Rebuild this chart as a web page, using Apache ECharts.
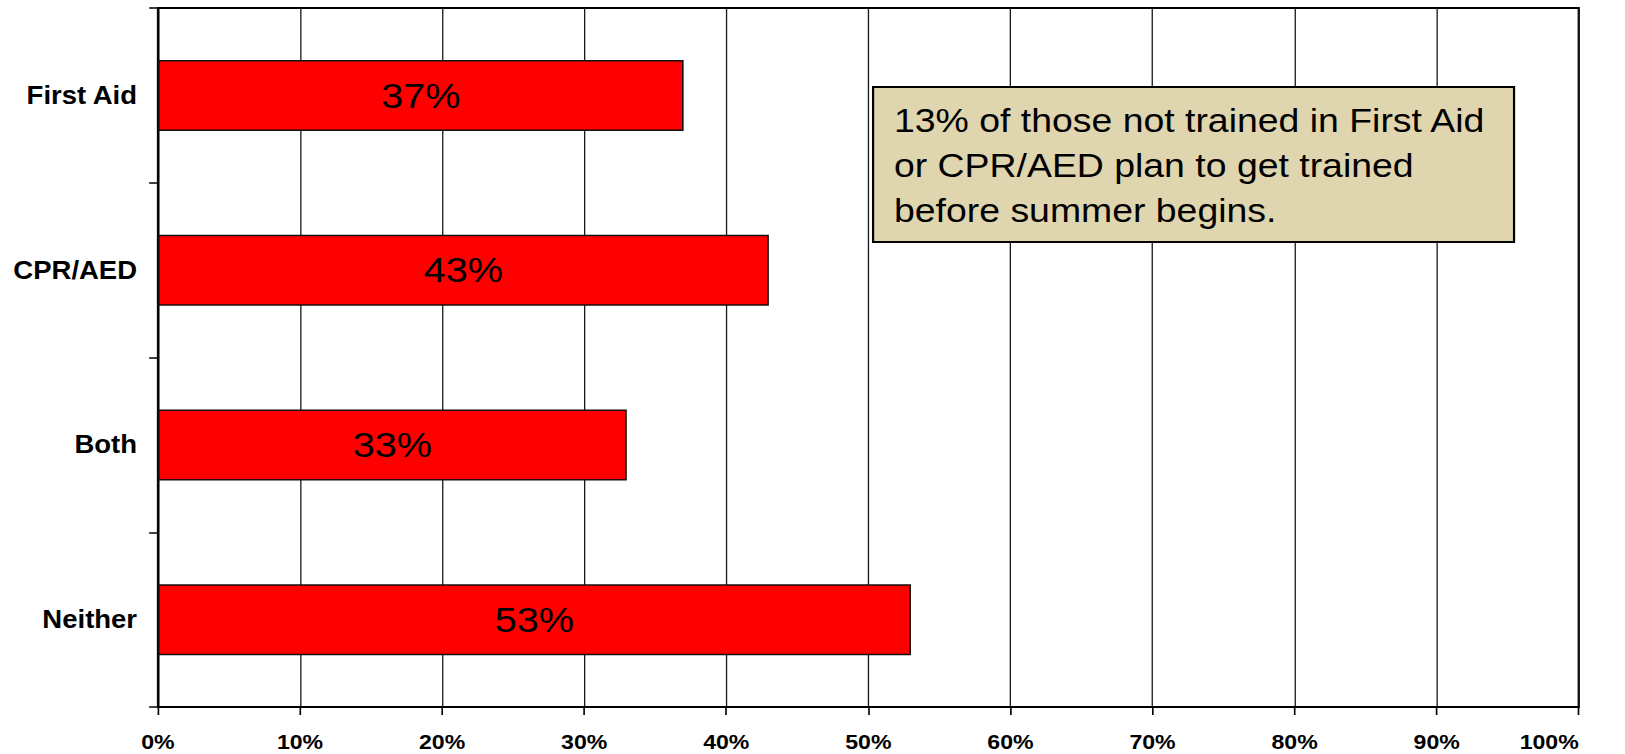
<!DOCTYPE html>
<html>
<head>
<meta charset="utf-8">
<script src="https://cdn.jsdelivr.net/npm/echarts@6/dist/echarts.min.js"></script>
<style>
  html, body { margin: 0; padding: 0; background: #fff; overflow: hidden; }
  #wrap { width: 1625px; height: 754px; overflow: hidden; }
  #chart { width: 1477px; height: 754px; transform: scaleX(1.1); transform-origin: 0 0; }
</style>
</head>
<body>
<div id="wrap"><div id="chart"></div></div>
<script>
// ---- data ----
const categories = ['First Aid', 'CPR/AED', 'Both', 'Neither'];
const values = [37, 43, 33, 53];
const xTicks = { min: 0, max: 100, interval: 10 };
const noteLines = [
  '13% of those not trained in First Aid',
  'or CPR/AED plan to get trained',
  'before summer begins.'
];

const FONT = '"Liberation Sans", Arial, Helvetica, sans-serif';
const chart = echarts.init(document.getElementById('chart'), null, { renderer: 'svg' });

chart.setOption({
  animation: false,
  backgroundColor: '#ffffff',
  grid: {
    left: 143.6, right: 41.8, top: 8, bottom: 47,
    show: true, borderColor: '#000', borderWidth: 2, backgroundColor: 'transparent'
  },
  xAxis: {
    type: 'value',
    min: xTicks.min, max: xTicks.max, interval: xTicks.interval,
    axisLine: { show: true, lineStyle: { color: '#000', width: 2 } },
    axisTick: { show: true, length: 8, lineStyle: { color: '#000', width: 1.5 } },
    axisLabel: {
      formatter: '{value}%', color: '#000', fontFamily: FONT,
      fontWeight: 'bold', fontSize: 21, margin: 24, alignMaxLabel: 'right'
    },
    splitLine: { show: true, lineStyle: { color: '#1a1a1a', width: 1.2 } }
  },
  yAxis: {
    type: 'category',
    data: categories,
    inverse: true,
    axisLine: { show: true, lineStyle: { color: '#000', width: 2 } },
    axisTick: { show: true, length: 8, lineStyle: { color: '#000', width: 1.5 } },
    axisLabel: {
      color: '#000', fontFamily: FONT, fontWeight: 'bold', fontSize: 25, margin: 19
    },
    splitLine: { show: false }
  },
  series: [{
    type: 'bar',
    data: values,
    barWidth: 71,
    itemStyle: { color: '#ff0000', borderColor: '#111', borderWidth: 1.5 },
    label: {
      show: true, position: 'inside', formatter: '{c}%',
      color: '#000', fontFamily: FONT, fontSize: 36, fontWeight: 'normal'
    }
  }],
  graphic: [{
    type: 'group',
    left: 792.7, top: 86,
    z: 100,
    children: [{
      type: 'rect',
      z: 100,
      shape: { x: 0, y: 0, width: 582.7, height: 155 },
      style: { fill: '#dfd5ae', stroke: '#000', lineWidth: 2 }
    }, {
      type: 'text',
      z: 101,
      x: 19, y: 11,
      style: {
        text: noteLines.join('\n'),
        fill: '#000', font: '34px ' + FONT, lineHeight: 45,
        textAlign: 'left', textVerticalAlign: 'top'
      }
    }]
  }]
});
</script>
</body>
</html>
